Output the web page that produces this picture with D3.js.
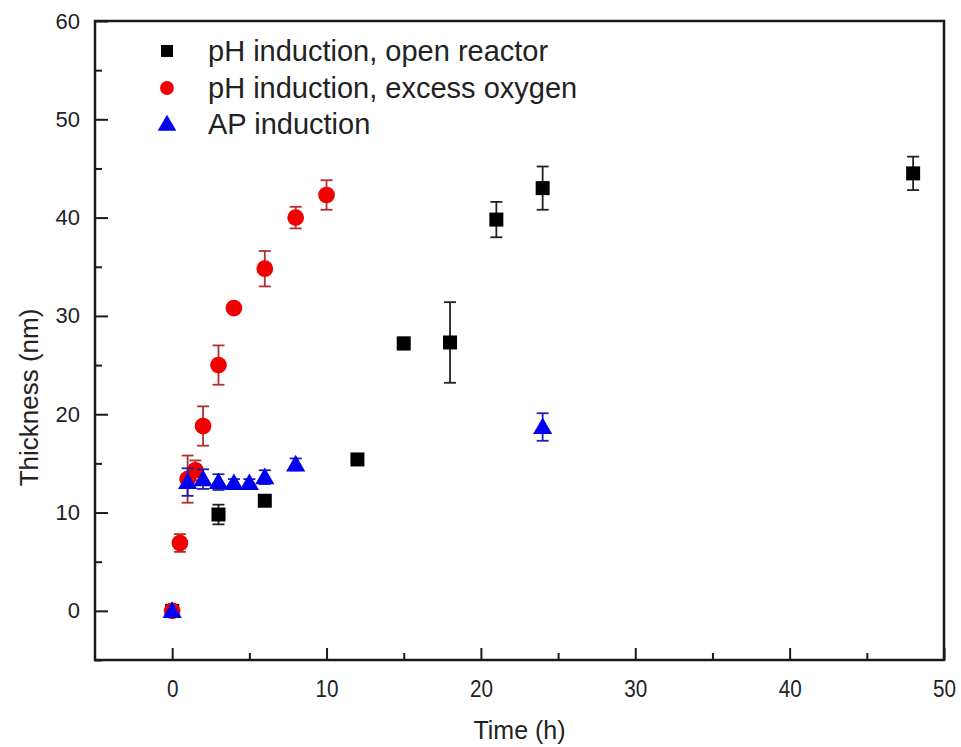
<!DOCTYPE html>
<html>
<head>
<meta charset="utf-8">
<script src="https://cdn.jsdelivr.net/npm/d3@7"></script>
<style>
  html, body { margin: 0; padding: 0; background: #fff; }
  svg { display: block; font-family: "Liberation Sans", Arial, sans-serif; }
</style>
</head>
<body>
<svg id="chart" width="961" height="747"></svg>
<script>
// ---------- data ----------
const seriesNames = ["pH induction, open reactor", "pH induction, excess oxygen", "AP induction"];

const openTime  = [0, 3, 6, 12, 15, 18, 21, 24, 48];
const openThick = [0, 9.8, 11.2, 15.4, 27.2, 27.3, 39.8, 43.0, 44.5];
const openErr   = [0, 1.0, 0.4, 0.3, 0.6, 4.1, 1.8, 2.2, 1.7];

const oxyTime  = [0, 0.5, 1, 1.5, 2, 3, 4, 6, 8, 10];
const oxyThick = [0, 6.9, 13.4, 14.3, 18.8, 25.0, 30.8, 34.8, 40.0, 42.3];
const oxyErr   = [0, 0.9, 2.4, 1.0, 2.0, 2.0, 0.5, 1.8, 1.1, 1.5];

const apTime  = [0, 1, 2, 3, 4, 5, 6, 8, 24];
const apThick = [0, 13.1, 13.4, 13.1, 13.0, 13.0, 13.6, 14.9, 18.7];
const apErr   = [0, 1.4, 1.0, 0.8, 0.4, 0.4, 0.7, 0.6, 1.4];

const xMajorTicks = [0, 10, 20, 30, 40, 50];
const xMinorTicks = [5, 15, 25, 35, 45];
const yMajorTicks = [0, 10, 20, 30, 40, 50, 60];
const yMinorTicks = [-5, 5, 15, 25, 35, 45, 55];

const xTitle = "Time (h)";
const yTitle = "Thickness (nm)";

// ---------- layout ----------
const svg = d3.select("#chart");
const L = 95, R = 944, T = 21, B = 660;
const x = d3.scaleLinear().domain([-5, 50]).range([L, R]);
const y = d3.scaleLinear().domain([-5, 60]).range([B, T]);

// axes
const gx = svg.append("g").attr("transform", `translate(0,${B})`)
  .call(d3.axisBottom(x).tickValues(xMajorTicks).tickSize(-12).tickPadding(20).tickFormat(d3.format("d")));
const gxm = svg.append("g").attr("transform", `translate(0,${B})`)
  .call(d3.axisBottom(x).tickValues(xMinorTicks).tickSize(-7).tickFormat(""));
const gy = svg.append("g").attr("transform", `translate(${L},0)`)
  .call(d3.axisLeft(y).tickValues(yMajorTicks).tickSize(-13).tickPadding(15).tickFormat(d3.format("d")));
const gym = svg.append("g").attr("transform", `translate(${L},0)`)
  .call(d3.axisLeft(y).tickValues(yMinorTicks).tickSize(-7).tickFormat(""));

[gx, gxm, gy, gym].forEach(g => {
  g.select(".domain").remove();
  g.selectAll(".tick line").attr("stroke", "#1a1a1a").attr("stroke-width", 2);
  g.selectAll(".tick text").attr("fill", "#222").attr("font-size", 22);
});
gx.selectAll(".tick text")
  .attr("font-size", 24)
  .attr("textLength", d => String(d).length * 11.5)
  .attr("lengthAdjust", "spacingAndGlyphs");

// frame
svg.append("rect").attr("x", L).attr("y", T).attr("width", R - L).attr("height", B - T)
  .attr("fill", "none").attr("stroke", "#1a1a1a").attr("stroke-width", 2.5);

// titles
svg.append("text").attr("x", (L + R) / 2).attr("y", 739).attr("text-anchor", "middle")
  .attr("font-size", 25).attr("fill", "#222").text(xTitle);
svg.append("text").attr("transform", `translate(38,${(T + B) / 2 + 57}) rotate(-90)`)
  .attr("text-anchor", "middle").attr("font-size", 26).attr("fill", "#222").text(yTitle);

// ---------- series ----------
const series = [
  { t: openTime, v: openThick, e: openErr, fill: "#000", err: "#222", shape: "square" },
  { t: oxyTime,  v: oxyThick,  e: oxyErr,  fill: "#f00000", err: "#b03030", shape: "circle" },
  { t: apTime,   v: apThick,   e: apErr,   fill: "#0000f0", err: "#2020b0", shape: "triangle" }
];

const symType = { square: d3.symbolSquare, circle: d3.symbolCircle, triangle: d3.symbolTriangle };
const symSize = { square: 196, circle: 220, triangle: 160 };
const cap = 6;

series.forEach(s => {
  const pts = s.t.map((t, i) => ({ t, v: s.v[i], e: s.e[i] }));
  const g = svg.append("g");
  const eb = g.selectAll("g.eb").data(pts.filter(p => p.e > 0)).join("g")
    .attr("stroke", s.err).attr("stroke-width", 1.8);
  eb.append("line").attr("x1", p => x(p.t)).attr("x2", p => x(p.t))
    .attr("y1", p => y(p.v + p.e)).attr("y2", p => y(p.v - p.e));
  eb.append("line").attr("x1", p => x(p.t) - cap).attr("x2", p => x(p.t) + cap)
    .attr("y1", p => y(p.v + p.e)).attr("y2", p => y(p.v + p.e));
  eb.append("line").attr("x1", p => x(p.t) - cap).attr("x2", p => x(p.t) + cap)
    .attr("y1", p => y(p.v - p.e)).attr("y2", p => y(p.v - p.e));
  g.selectAll("path.m").data(pts).join("path")
    .attr("transform", p => `translate(${x(p.t)},${y(p.v) + (s.shape === "triangle" ? 1.5 : 0)})`)
    .attr("d", d3.symbol().type(symType[s.shape]).size(symSize[s.shape]))
    .attr("fill", s.fill);
});

// ---------- legend ----------
const legY = [51, 88, 124];
series.forEach((s, i) => {
  svg.append("path")
    .attr("transform", `translate(167,${legY[i] + (s.shape === "triangle" ? 1.5 : 0)})`)
    .attr("d", d3.symbol().type(symType[s.shape]).size(s.shape === "square" ? 144 : 150))
    .attr("fill", s.fill);
  svg.append("text").attr("x", 208).attr("y", legY[i] + 10)
    .attr("font-size", 29).attr("fill", "#222").text(seriesNames[i]);
});
</script>
</body>
</html>
